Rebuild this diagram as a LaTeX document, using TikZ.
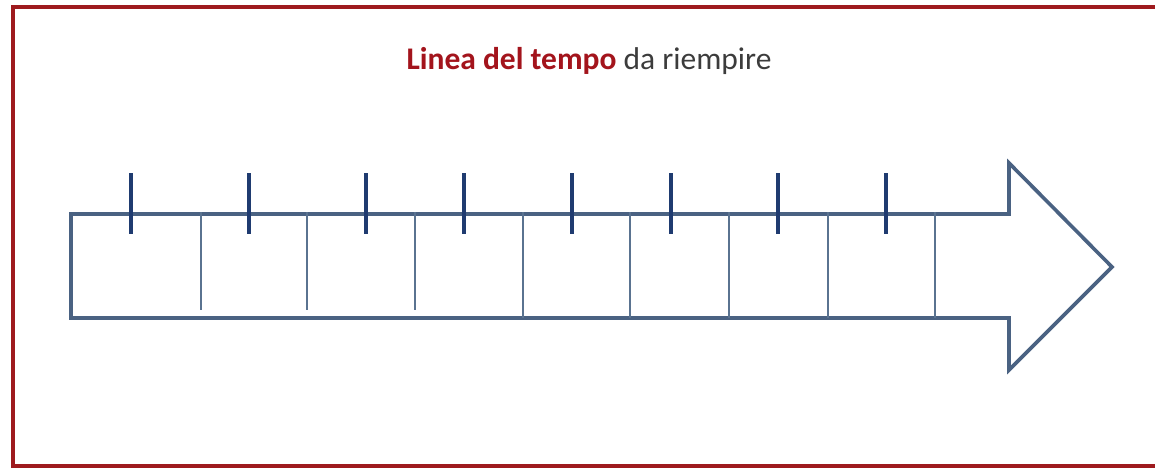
\documentclass[tikz,border=0pt]{standalone}
\usepackage{fontspec}
\setmainfont{Carlito}
\usepackage{tikz}
\usetikzlibrary{positioning}
\definecolor{cornice}{HTML}{9E1A1E}
\definecolor{titolorosso}{HTML}{A3141C}
\definecolor{grigiotesto}{HTML}{3C3C3C}
\definecolor{freccia}{HTML}{4A6282}
\definecolor{tacca}{HTML}{1F3B70}
\definecolor{divisore}{HTML}{5A7390}
\tikzset{
  cornice/.style={draw=cornice, line width=3.4pt},
  freccia/.style={draw=freccia, line width=3.6pt, line join=miter, fill=white},
  tacca/.style={draw=tacca, line width=3.6pt},
  divisore/.style={draw=divisore, line width=1.1pt},
  titolo/.style={font=\fontsize{31.5}{36}\selectfont, text=grigiotesto, anchor=base, inner sep=0pt}
}

\begin{document}
\begin{tikzpicture}[x=1pt,y=-1pt]
    \useasboundingbox (0,0) rectangle (1155,467);
    \fill[white] (0,0) rectangle (1155,467);
    \draw[cornice] (13,7) rectangle (1180,466);

    \node[titolo] (titolo) at (589,69) {\textcolor{titolorosso}{\textbf{Linea del tempo}} da riempire};

    % freccia
    \coordinate (coda) at (71,214);
    \coordinate (punta) at (1112,267);
    \draw[freccia] (coda) -- (1009,214) -- (1009,163) -- (punta) -- (1009,370)
      -- (1009,318) -- (71,318) -- cycle;

    \foreach \x/\y in {201/310,307/310,415/310,523/318,630/318,729/318,828/318,935/318}
      \draw[divisore] (\x,212) -- (\x,\y);

    \foreach \x in {131,249,366,464,572,671,778,886}
      \draw[tacca] (\x,173) -- (\x,234);
  \end{tikzpicture}
\end{document}
